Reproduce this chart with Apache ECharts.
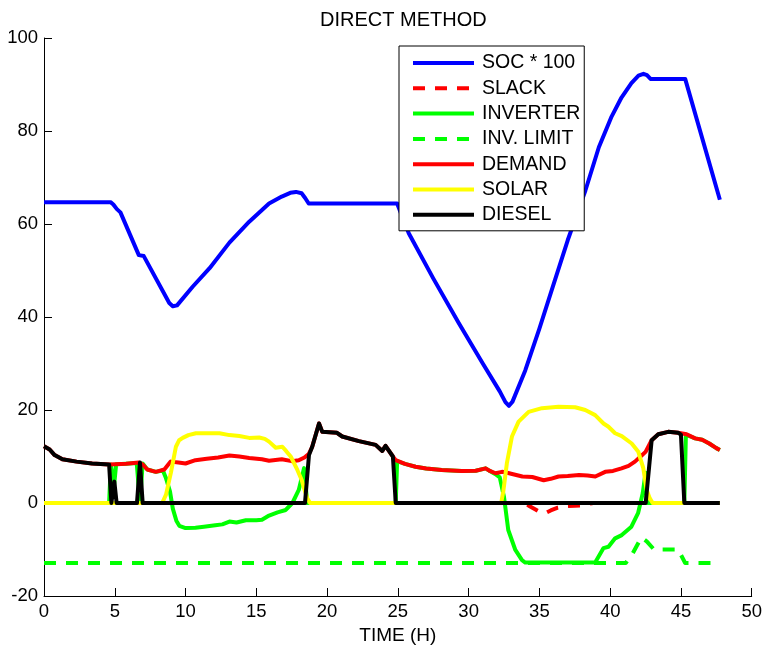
<!DOCTYPE html>
<html>
<head>
<meta charset="utf-8">
<script src="https://cdn.jsdelivr.net/npm/echarts@6/dist/echarts.min.js"></script>
<style>html,body{margin:0;padding:0;background:#fff;}#c{width:765px;height:651px;}</style>
</head>
<body>
<div id="c"></div>
<script>
// ---- data (time in hours, value) ----
var socData = [[0,64.7],[4.7,64.7],[4.9,64.2],[5.15,63.2],[5.4,62.5],[6.7,53.3],[7.05,53.1],[8.85,43.0],[9.1,42.3],[9.4,42.5],[10.5,46.5],[11.7,50.5],[13.1,56.0],[14.5,60.5],[15.9,64.4],[16.8,65.9],[17.4,66.7],[17.8,66.9],[18.2,66.6],[18.45,65.6],[18.7,64.4],[24.95,64.4],[25.77,58.0],[27.5,48.3],[29.3,38.7],[31.0,30.0],[32.2,24.0],[32.6,21.7],[32.85,20.9],[33.1,21.8],[34,28.5],[35,37.5],[36,47],[37,56.5],[38.25,67.2],[39.2,76.5],[40.1,83.1],[40.8,87.2],[41.5,90.3],[42.0,91.9],[42.35,92.3],[42.6,92.0],[42.85,91.2],[45.3,91.2],[47.75,65.2]];
var slackData = [[0,0],[34.0,0],[34.25,-0.6],[34.95,-1.8],[35.4,-2.2],[35.8,-1.6],[36.3,-1.0],[36.8,-0.7],[37.5,-0.6],[38.2,-0.5],[38.6,-0.1],[38.8,0],[47.75,0]];
var inverterData = [[0,0],[4.6,0],[4.72,8.3],[4.85,8.3],[4.95,3.7],[5.1,8.35],[5.8,8.45],[6.55,8.6],[6.78,0],[6.97,8.5],[7.3,7.2],[7.9,6.7],[8.4,7.0],[8.6,5.5],[8.9,2.5],[9.1,-1.2],[9.35,-3.8],[9.56,-4.9],[10.0,-5.4],[10.7,-5.3],[11.3,-5.1],[12.1,-4.8],[12.6,-4.6],[13.1,-4.0],[13.6,-4.2],[14.26,-3.7],[15.0,-3.7],[15.4,-3.6],[15.9,-2.7],[16.5,-2.0],[17.08,-1.5],[17.55,0],[18.0,2.8],[18.37,7.5],[18.6,0],[24.85,0],[24.95,9.0],[25.5,8.4],[26.25,7.8],[27,7.4],[28.1,7.1],[29.5,6.9],[30.5,6.95],[31.2,7.45],[31.5,6.9],[31.9,6.2],[32.2,5.5],[32.5,1.3],[32.8,-5.8],[33.3,-10.1],[33.77,-12.3],[34.0,-12.8],[38.94,-12.8],[39.53,-9.7],[39.88,-9.4],[40.35,-7.6],[40.82,-6.9],[41.5,-5.1],[41.97,-2.2],[42.3,2.1],[42.5,6.5],[42.6,0],[45.24,0],[45.35,14.7],[46.0,13.9],[46.5,13.6],[47.0,12.8],[47.5,11.8],[47.75,11.4]];
var invLimitData = [[0,-12.9],[41.1,-12.9],[41.6,-10.8],[42.2,-7.4],[42.6,-8.3],[43.1,-10],[44.8,-10],[45.3,-12.9],[47.75,-12.9]];
var demandData = [[0,12.2],[0.4,11.5],[0.75,10.3],[1.3,9.4],[2.3,8.9],[3.4,8.5],[4.6,8.3],[5.8,8.45],[6.7,8.7],[7.0,8.2],[7.3,7.2],[7.9,6.7],[8.5,7.2],[8.95,8.9],[9.5,8.7],[10.0,8.5],[10.7,9.2],[11.5,9.5],[12.3,9.8],[13.1,10.2],[13.8,10.0],[14.5,9.7],[15.4,9.4],[15.9,9.1],[16.8,9.4],[17.5,9.0],[18.0,9.2],[18.4,9.8],[18.72,10.6],[18.95,12.1],[19.43,17.1],[19.66,15.3],[20.7,15.1],[21.07,14.3],[22.25,13.3],[23.43,12.5],[23.9,11.2],[24.13,12.3],[24.65,10.0],[24.85,9.2],[25.5,8.4],[26.25,7.8],[27,7.4],[28.1,7.1],[29.5,6.9],[30.5,6.95],[31.2,7.45],[31.5,6.9],[31.9,6.4],[32.35,6.7],[32.6,6.6],[33.0,6.3],[33.8,5.7],[34.5,5.6],[35.3,4.9],[35.8,5.2],[36.35,5.7],[37.0,5.8],[37.8,6.0],[38.4,5.9],[38.95,5.7],[39.65,6.7],[40.2,6.9],[40.8,7.45],[41.3,8.0],[41.75,8.9],[42.15,10.0],[42.5,11.0],[42.93,13.5],[43.4,14.8],[44.1,15.3],[44.8,15.1],[45.4,14.8],[46.0,13.9],[46.5,13.6],[47.0,12.8],[47.5,11.8],[47.75,11.4]];
var solarData = [[0,0],[8.35,0],[8.62,1.8],[8.97,6.6],[9.32,12.1],[9.55,13.5],[9.8,14.0],[10.2,14.6],[10.73,15.0],[11.5,15.0],[12.4,15.0],[13.1,14.6],[13.8,14.4],[14.5,14.0],[15.2,14.1],[15.6,13.8],[15.9,13.2],[16.37,11.9],[16.84,12.1],[17.1,11.2],[17.43,10.0],[17.9,7.1],[18.2,5.0],[18.37,3.2],[18.6,1.0],[18.8,0],[32.3,0],[32.45,2.5],[32.7,8.5],[33.06,14.3],[33.53,17.5],[34.24,19.6],[35.18,20.4],[36.35,20.7],[37.53,20.6],[38.24,20.0],[38.94,18.9],[39.53,17.1],[39.88,16.4],[40.35,15.0],[40.82,14.4],[41.52,12.8],[41.99,11.0],[42.34,7.5],[42.58,2.8],[42.8,1.0],[43.0,0],[47.75,0]];
var dieselData = [[0,12.2],[0.4,11.5],[0.75,10.3],[1.3,9.4],[2.3,8.9],[3.4,8.5],[4.6,8.3],[4.76,0],[4.97,4.6],[5.13,0],[6.57,0],[6.78,8.7],[6.97,0],[18.44,0],[18.72,10.3],[18.95,12.1],[19.43,17.1],[19.66,15.3],[20.7,15.1],[21.07,14.3],[22.25,13.3],[23.43,12.5],[23.9,11.2],[24.13,12.3],[24.65,10.0],[24.85,0],[42.51,0],[42.93,13.5],[43.4,14.8],[44.1,15.3],[44.8,15.1],[45.0,14.7],[45.24,0],[47.75,0]];
var seriesNames = ['SOC * 100','SLACK','INVERTER','INV. LIMIT','DEMAND','SOLAR','DIESEL'];
var xTicks = {min:0, max:50, interval:5};
var yTicks = {min:-20, max:100, interval:20};

var FONT = '"Liberation Sans", Arial, Helvetica, sans-serif';
function mk(name, data, color, dashed) {
  return {
    name: name, type: 'line', data: data, symbol: 'none', showSymbol: false,
    animation: false, silent: true,
    lineStyle: {color: color, width: 4, type: dashed ? [12, 10] : 'solid', cap: 'butt', join: 'round'},
    itemStyle: {color: color}
  };
}
var chart = echarts.init(document.getElementById('c'), null, {renderer: 'canvas'});
chart.setOption({
  backgroundColor: '#fff',
  animation: false,
  title: {
    text: 'DIRECT METHOD', left: 315, top: 5,
    textStyle: {fontFamily: FONT, fontSize: 20, fontWeight: 'normal', color: '#000'}
  },
  grid: {left: 44, right: 11, top: 38, bottom: 55, containLabel: false},
  legend: {
    orient: 'vertical', left: 399, top: 46,
    itemWidth: 61, itemHeight: 14, itemGap: 5.3,
    padding: [7, 4, 6, 12],
    borderColor: '#000', borderWidth: 1, backgroundColor: '#fff',
    selectedMode: false, z: 10,
    itemStyle: {opacity: 0},
    lineStyle: {width: 4},
    textStyle: {fontFamily: FONT, fontSize: 19.5, color: '#000', lineHeight: 20, padding: [0, 0, 0, 3]},
    data: seriesNames
  },
  xAxis: {
    type: 'value', min: xTicks.min, max: xTicks.max, interval: xTicks.interval,
    name: 'TIME (H)', nameLocation: 'middle', nameGap: 30,
    nameTextStyle: {fontFamily: FONT, fontSize: 19, color: '#000'},
    axisLine: {show: true, onZero: false, lineStyle: {color: '#000', width: 1}},
    axisTick: {show: true, inside: true, length: 8, lineStyle: {color: '#000'}},
    axisLabel: {fontFamily: FONT, fontSize: 18.5, color: '#000', margin: 6},
    splitLine: {show: false}
  },
  yAxis: {
    type: 'value', min: yTicks.min, max: yTicks.max, interval: yTicks.interval,
    axisLine: {show: true, onZero: false, lineStyle: {color: '#000', width: 1}},
    axisTick: {show: true, inside: true, length: 8, lineStyle: {color: '#000'}},
    axisLabel: {fontFamily: FONT, fontSize: 18.5, color: '#000', margin: 6},
    splitLine: {show: false}
  },
  series: [
    mk(seriesNames[0], socData, '#0000ff', false),
    mk(seriesNames[1], slackData, '#ff0000', true),
    mk(seriesNames[2], inverterData, '#00ff00', false),
    mk(seriesNames[3], invLimitData, '#00ff00', true),
    mk(seriesNames[4], demandData, '#ff0000', false),
    mk(seriesNames[5], solarData, '#ffff00', false),
    mk(seriesNames[6], dieselData, '#000000', false)
  ]
});
</script>
</body>
</html>
